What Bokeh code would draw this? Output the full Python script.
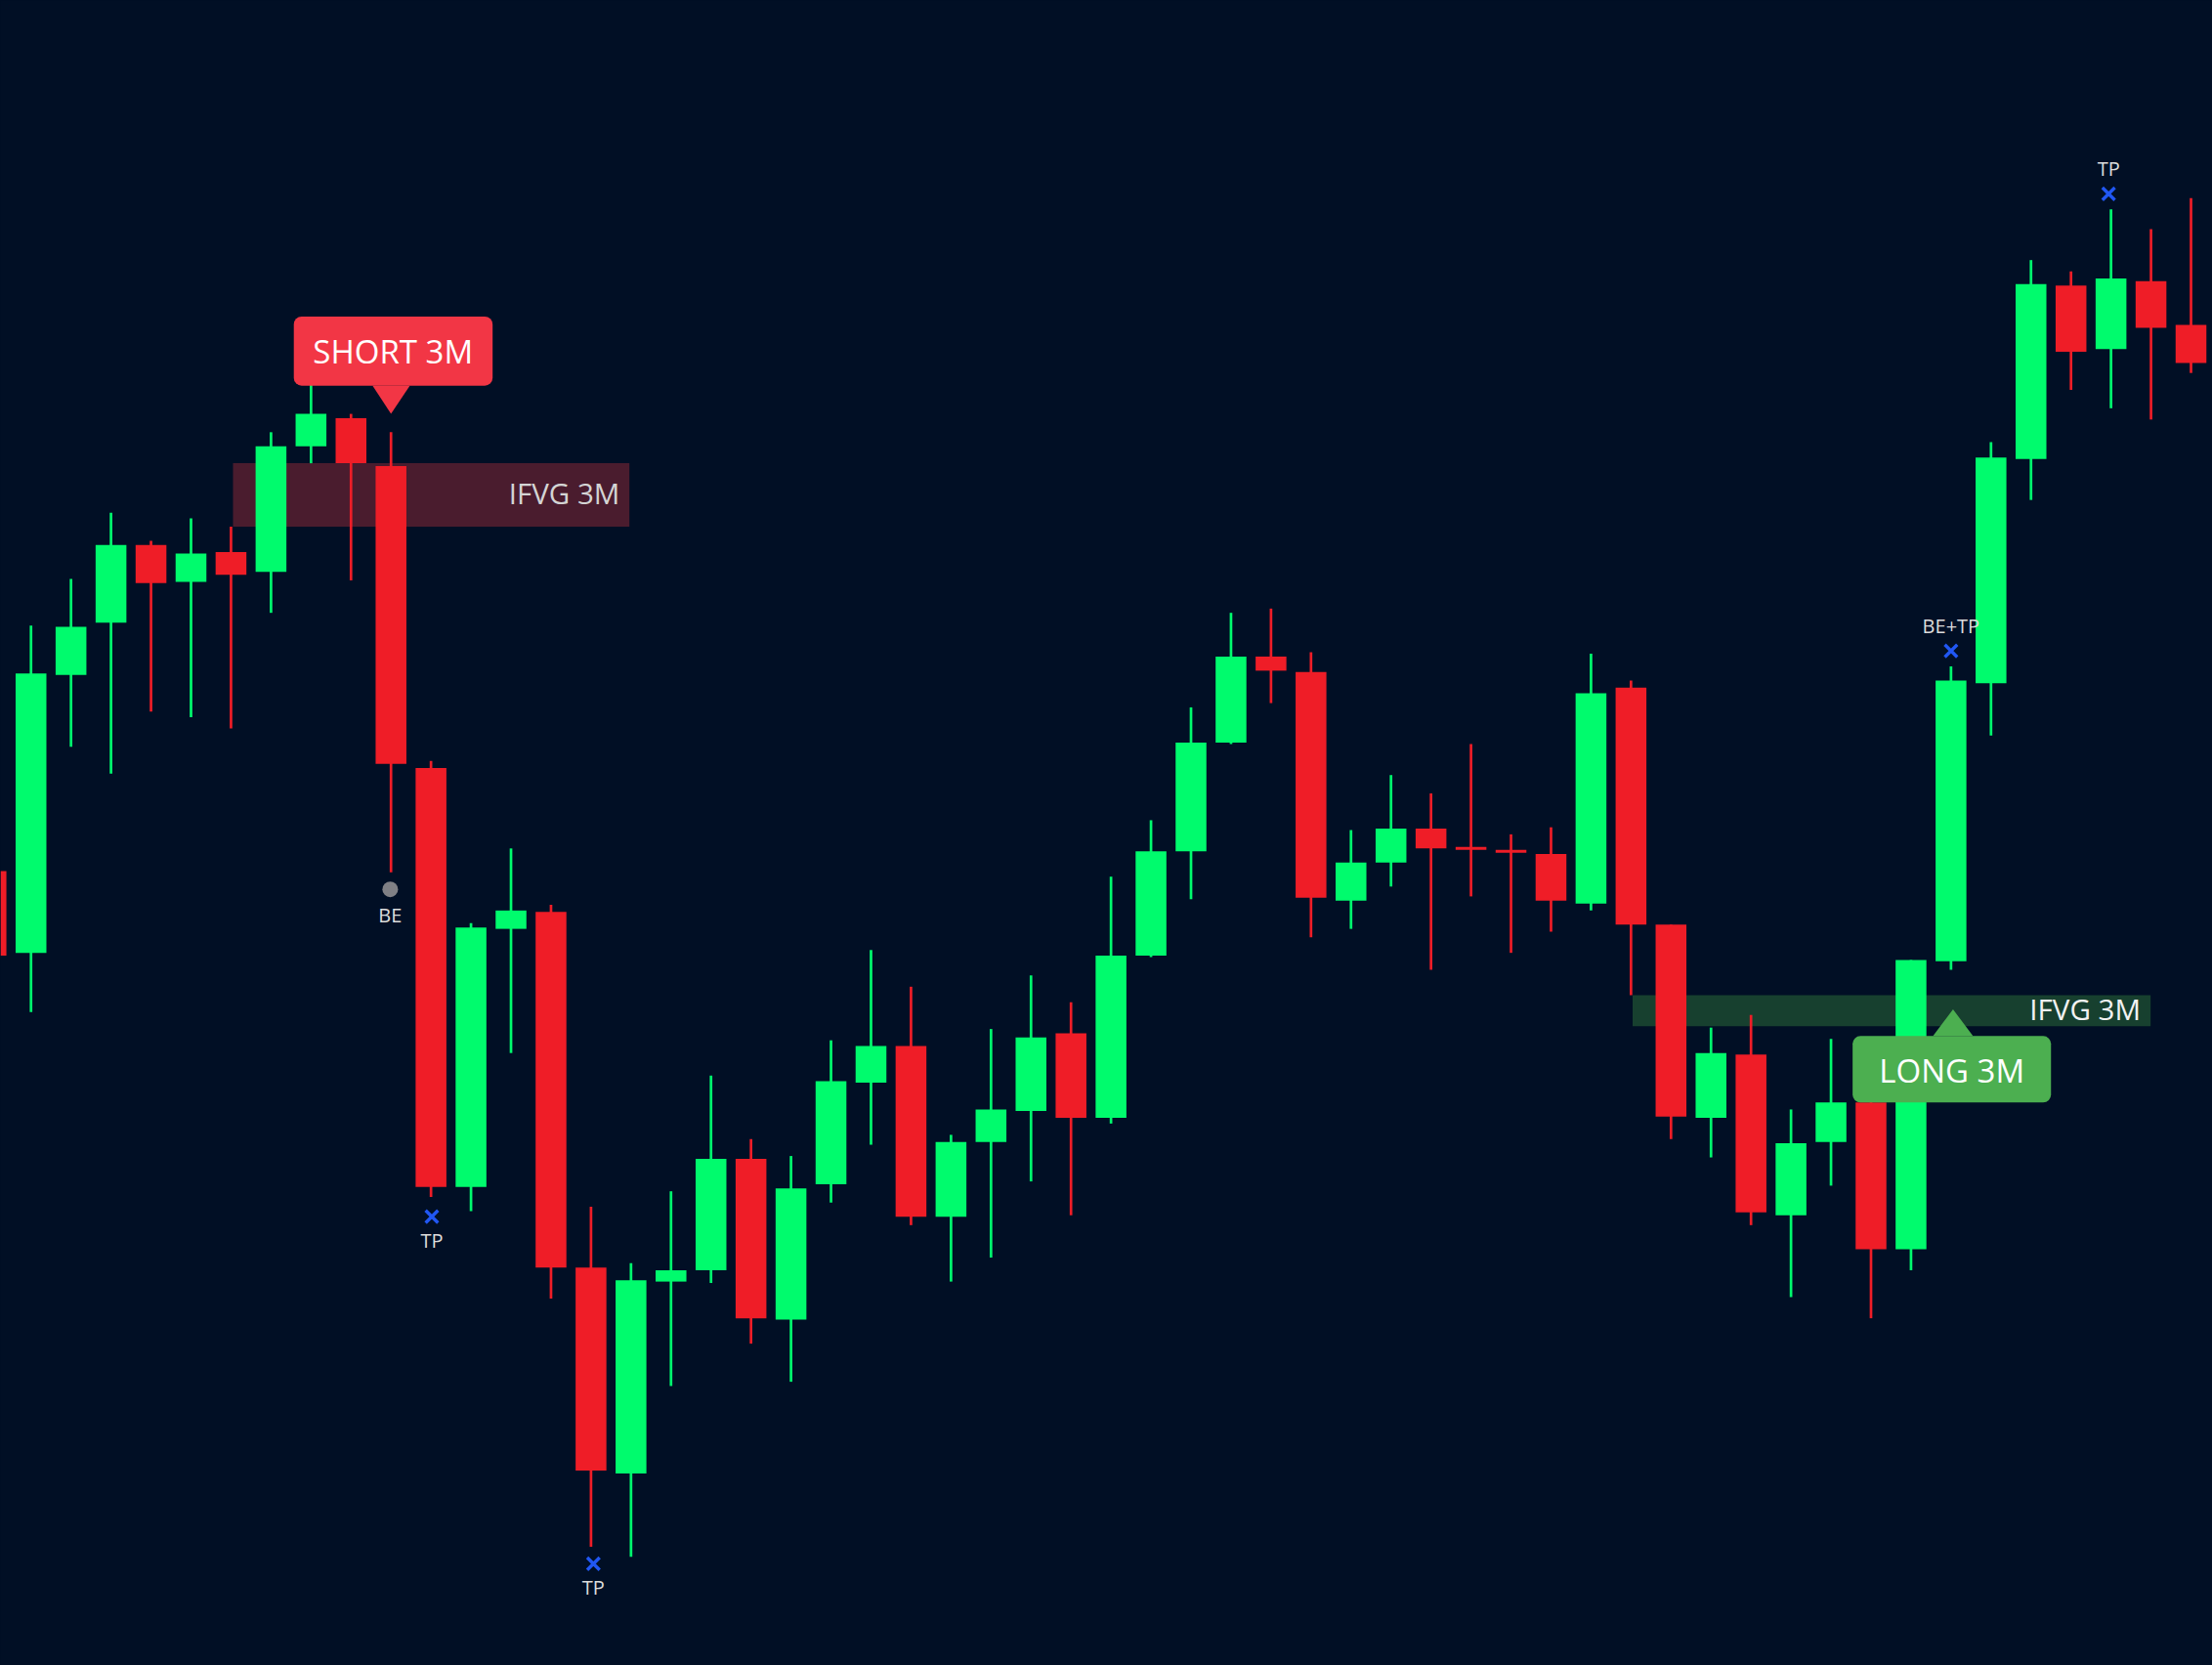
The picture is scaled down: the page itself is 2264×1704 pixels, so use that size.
from bokeh.core.properties import value
from bokeh.embed import file_html
from bokeh.models import ColumnDataSource, GlobalInlineStyleSheet, Range1d
from bokeh.plotting import figure
from bokeh.resources import INLINE

BG = "#010f25"
GREEN = "#00fb6d"
RED = "#ef1d27"

# candles; the price scale has no labels so heights run top-down
idx = list(range(-1, 55))
side = [
    "r", "g", "g", "g", "r", "g", "r", "g", "g", "r", "r", "r", "g", "g", "r", "r",
    "g", "g", "g", "r", "g", "g", "g", "r", "g", "g", "g", "r", "g", "g", "g", "g",
    "r", "r", "g", "g", "r", "r", "r", "r", "g", "r", "r", "g", "r", "g", "g", "r",
    "g", "g", "g", "g", "r", "g", "r", "r",
]
wick_top = [617, 443, 410, 363, 383, 367, 373, 306, 265, 293, 306, 539, 654, 601, 641, 855,
            895, 844, 762, 807, 819, 737, 673, 699, 804, 729, 691, 710, 621, 581, 501, 434,
            431, 462, 588, 549, 562, 527, 591, 586, 463, 482, 655, 728, 719, 786, 736, 770,
            680, 472, 313, 184, 192, 148, 162, 140]
body_top = [617, 477, 444, 386, 386, 392, 391, 316, 293, 296, 330, 544, 657, 645, 646, 898,
            907, 900, 821, 821, 842, 766, 741, 741, 809, 786, 735, 732, 677, 603, 526, 465,
            465, 476, 611, 587, 587, 600, 602, 605, 491, 487, 655, 746, 747, 810, 781, 781,
            680, 482, 324, 201, 202, 197, 199, 230]
body_bottom = [677, 675, 478, 441, 413, 412, 407, 405, 316, 328, 541, 841, 841, 658, 898, 1042,
               1044, 908, 900, 934, 935, 839, 767, 862, 862, 809, 787, 792, 792, 677, 603, 526,
               475, 636, 638, 611, 601, 602, 604, 638, 640, 655, 791, 792, 859, 861, 809, 885,
               885, 681, 484, 325, 249, 247, 232, 257]
wick_bottom = [677, 717, 529, 548, 504, 508, 516, 434, 328, 411, 618, 848, 858, 746, 920, 1096,
               1103, 982, 909, 952, 979, 852, 811, 868, 908, 891, 837, 861, 796, 678, 637, 527,
               498, 664, 658, 628, 687, 635, 675, 660, 645, 705, 807, 820, 868, 919, 840, 934,
               900, 687, 521, 354, 276, 289, 297, 264]

# IFVG zones
zone_left = [5.05, 40.04]
zone_right = [14.96, 52.99]
zone_top = [328, 705]
zone_bottom = [373, 727]
zone_colors = ["#4a1c2e", "#17402f"]
zone_text = ["IFVG 3M", "IFVG 3M"]
zone_text_x = [14.72, 52.74]
zone_text_y = [349, 714.5]
zone_text_colors = ["#d4d4d4", "#f2f2f2"]

# trade labels
tag_text = ["SHORT 3M", "LONG 3M"]
tag_left = [6.57, 45.54]
tag_right = [11.54, 50.5]
tag_top = [224, 734]
tag_bottom = [273, 781]
tag_x = [9.05, 48.02]
tag_y = [248.5, 758.5]
tag_colors = ["#f23645", "#4caf50"]
pointer_xs = [[8.54, 9.47, 9.0], [47.55, 48.55, 48.05]]
pointer_ys = [[273, 273, 293], [734, 734, 715]]

# exits
exit_x = [10.02, 14.06, 48.0, 51.94]
exit_y = [862, 1108, 461, 137]
exit_text = ["TP", "TP", "BE+TP", "TP"]
exit_text_y = [879, 1125, 443, 119]
be_x = [8.98]
be_y = [630]
be_text_y = [648]

p = figure(
    width=2264,
    height=1704,
    x_range=Range1d(-0.763, 54.537),
    y_range=Range1d(1180.1, 0),
    output_backend="svg",
    toolbar_location=None,
    min_border=0,
    background_fill_color=BG,
    border_fill_color=BG,
    outline_line_color=None,
)
p.axis.visible = False
p.grid.visible = False
p.stylesheets = [GlobalInlineStyleSheet(css="html, body { background: %s; }" % BG)]

p.quad(left=zone_left, right=zone_right, top=zone_top, bottom=zone_bottom,
       fill_color=zone_colors, line_color=None)

candles = ColumnDataSource(dict(
    x=idx,
    wick_top=wick_top,
    wick_bottom=wick_bottom,
    body_top=body_top,
    body_bottom=body_bottom,
    color=[GREEN if s == "g" else RED for s in side],
))
p.segment("x", "wick_top", "x", "wick_bottom", source=candles, color="color", line_width=2.7)
p.vbar("x", 0.77, "body_top", "body_bottom", source=candles, fill_color="color", line_color=None)

p.text(zone_text_x, zone_text_y, text=zone_text, text_color=zone_text_colors,
       text_font=value("Open Sans"), text_font_size="29.5px",
       text_align="right", text_baseline="middle")

p.patches(pointer_xs, pointer_ys, fill_color=tag_colors, line_color=None)
p.quad(left=tag_left, right=tag_right, top=tag_top, bottom=tag_bottom,
       fill_color=tag_colors, line_color=None, border_radius=8)
p.text(tag_x, tag_y, text=tag_text, text_color="#ffffff",
       text_font=value("Open Sans"), text_font_size="33px",
       text_align="center", text_baseline="middle")

p.scatter(exit_x, exit_y, marker="x", size=18, line_color="#2157f3", line_width=3.4)
p.scatter(be_x, be_y, marker="circle", size=16, fill_color="#808085", line_color=None)
p.text(exit_x, exit_text_y, text=exit_text, text_color="#dcdcdc",
       text_font=value("Open Sans"), text_font_size="20px",
       text_align="center", text_baseline="middle")
p.text(be_x, be_text_y, text=["BE"], text_color="#dcdcdc",
       text_font=value("Open Sans"), text_font_size="20px",
       text_align="center", text_baseline="middle")

open("out.html", "w").write(file_html(p, INLINE))
